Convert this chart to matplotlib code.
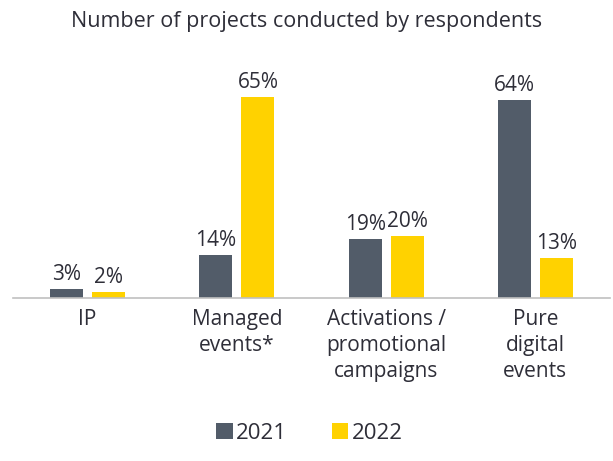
import matplotlib.pyplot as plt
import numpy as np

plt.rcParams['font.family'] = ['Open Sans', 'DejaVu Sans']

categories = ['IP', 'Managed\nevents*', 'Activations /\npromotional\ncampaigns', 'Pure\ndigital\nevents']
values_2021 = [3, 14, 19, 64]
values_2022 = [2, 65, 20, 13]
series_names = ['2021', '2022']
colors = ['#525c69', '#ffd200']
text_color = '#2e2e38'

fig = plt.figure(figsize=(6.13, 4.61), dpi=100)
ax = fig.add_axes([13 / 613, 1 - 298 / 461, 597 / 613, 238 / 461])

x = np.arange(len(categories))
w = 0.222
off = 0.141
b1 = ax.bar(x - off, values_2021, w, color=colors[0], label=series_names[0])
b2 = ax.bar(x + off, values_2022, w, color=colors[1], label=series_names[1])

for bars, vals in [(b1, values_2021), (b2, values_2022)]:
    for rect, v in zip(bars, vals):
        ax.text(rect.get_x() + rect.get_width() / 2, v + 1.3, f'{v}%',
                ha='center', va='bottom', fontsize=15, color=text_color)

ax.set_xlim(-0.5, 3.5)
ax.set_ylim(0, 77)
for s in ['top', 'right', 'left']:
    ax.spines[s].set_visible(False)
ax.spines['bottom'].set_color('#c0c0c0')
ax.spines['bottom'].set_linewidth(1.2)
ax.set_yticks([])
ax.set_xticks(x)
ax.set_xticklabels(categories, fontsize=15, color=text_color, linespacing=1.3, va='top')
ax.tick_params(axis='x', length=0, pad=8)

fig.text(0.5, 1 - 22 / 461, 'Number of projects conducted by respondents',
         ha='center', va='center', fontsize=15.5, color=text_color)

fig.legend(loc='center', bbox_to_anchor=(0.505, 1 - 433 / 461), ncol=2, frameon=False,
           fontsize=16, handlelength=0.75, handleheight=0.75, handletextpad=0.15,
           columnspacing=2.0, labelcolor=text_color)

fig.savefig('out.png', dpi=100)
